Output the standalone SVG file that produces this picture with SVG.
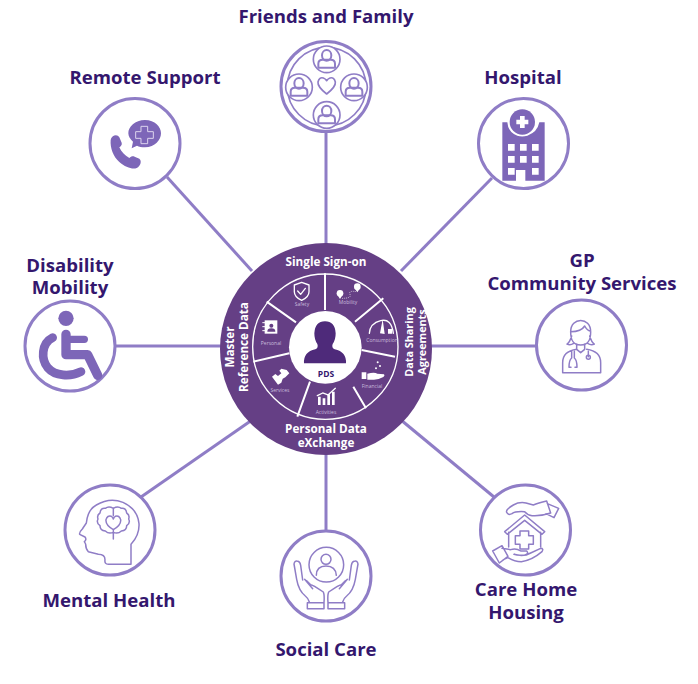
<svg xmlns="http://www.w3.org/2000/svg" width="698" height="684" viewBox="0 0 698 684">
<style>
.lab{font-family:"Open Sans","Liberation Sans",sans-serif;font-weight:700;font-size:18.6px;fill:#34176e;text-anchor:middle}
.hub{font-family:"Open Sans","Liberation Sans",sans-serif;font-weight:700;font-size:11.7px;fill:#fff;text-anchor:middle}
.hubs{font-size:10.8px}
.sm{font-family:"Open Sans","Liberation Sans",sans-serif;font-size:5px;fill:#c9bcdc;text-anchor:middle}
.ring{fill:#fff;stroke:#8f7dc6;stroke-width:3}
.con{stroke:#8f7dc6;stroke-width:3;fill:none}
.ln{fill:none;stroke:#8f7dc6;stroke-width:5;stroke-linecap:round;stroke-linejoin:round}
.ln2{fill:none;stroke:#8f7dc6;stroke-width:4.500;stroke-linecap:round;stroke-linejoin:round}
.sol{fill:#7d66b8}
.w{fill:none;stroke:#fff;stroke-width:4;stroke-linecap:round;stroke-linejoin:round}
.wf{fill:#fff}
</style>
<defs>
<g id="pers">
<circle r="40" fill="#fff" stroke="#8f7dc6" stroke-width="5"/>
<ellipse cx="0" cy="-12" rx="14" ry="16" fill="none" stroke="#8f7dc6" stroke-width="6"/>
<path d="M-25 25v-12q0-12 13-12h24q13 0 13 12v12z" fill="none" stroke="#8f7dc6" stroke-width="6" stroke-linejoin="round"/>
</g>
</defs>
<g id="connectors">
<path class="con" d="M326 132V250"/>
<path class="con" d="M167 177L252 271"/>
<path class="con" d="M492 178L401 271"/>
<path class="con" d="M537 346H430"/>
<path class="con" d="M115 346H222"/>
<path class="con" d="M141 497L252 420"/>
<path class="con" d="M326 531V450"/>
<path class="con" d="M494 497L401 420"/>
</g>
<g id="hub">
<circle cx="326" cy="349" r="106" fill="#653f85"/>
<g transform="translate(210,235) scale(.33333)">
<circle cx="346" cy="335" r="218" fill="none" stroke="#fff" stroke-width="4"/>
<path d="M345 115V225M520 190L435 260M455 345L555 365M430 455L468 520M300 440L262 545M238 355L130 380M258 262L170 200" stroke="#fff" stroke-width="6" fill="none"/>
<circle cx="346" cy="337" r="109" fill="#fff"/>
<path d="M282 385q-2-34 34-42 10-4 6-16-9-12-9-32 2-36 32-36t32 36q0 20-9 32-4 12 6 16 36 8 34 42z" fill="#4e2a7a"/>
<path class="w" d="M275 142l22 8v20q0 16-22 26-22-10-22-26v-20zM263 168l9 10 14-18" stroke-width="3"/>
<circle class="wf" cx="390" cy="175" r="10"/><circle class="wf" cx="442" cy="155" r="10"/>
<path class="wf" d="M381 178l9 14 9-14zM433 158l9 14 9-14z"/>
<path d="M396 190q30 0 24-12t20-8" fill="none" stroke="#fff" stroke-width="2" stroke-dasharray="3 3"/>
<path class="w" d="M478 295q2-30 34-38t38 38" stroke-width="4"/>
<path class="wf" d="M510 295l8-42 6 44zM534 282h12v14h-12z"/>
<path class="wf" d="M455 412h14v20h-14zM472 416q22-6 30 0l20 2q4 4-2 8-14 8-28 8h-20z"/>
<circle class="wf" cx="503" cy="382" r="3"/><circle class="wf" cx="510" cy="393" r="3"/><circle class="wf" cx="498" cy="400" r="3"/>
<path class="wf" d="M324 485h8v25h-8zM338 490h8v20h-8zM352 478h8v32h-8zM366 470h8v40h-8z"/>
<path class="w" d="M322 482l16-8 16 6 22-20" stroke-width="3"/>
<path class="wf" d="M186 425l10-8 8 6 10-8-6-8 6-6 16 4 8 10-12 12-8 4-4 12-10 6z"/>
<path class="wf" d="M164 256h38v40h-38z"/>
<circle cx="184" cy="272" r="6" fill="#653f85"/><path d="M172 290q0-10 12-10t12 10z" fill="#653f85"/>
<path d="M157 263h10M157 275h10M157 287h10" stroke="#fff" stroke-width="3"/>
</g>
<text class="hub" x="326" y="266">Single Sign-on</text>
<text class="hub" x="326" y="433">Personal Data</text>
<text class="hub" x="326" y="447">eXchange</text>
<text class="hub" transform="translate(234,347) rotate(-90)">Master</text>
<text class="hub" transform="translate(248,347) rotate(-90)">Reference Data</text>
<text class="hub hubs" transform="translate(413,342) rotate(-90)">Data Sharing</text>
<text class="hub hubs" transform="translate(426,342) rotate(-90)">Agreements</text>
<text class="sm" x="302" y="306">Safety</text>
<text class="sm" x="348" y="304">Mobility</text>
<text class="sm" x="382" y="342">Consumption</text>
<text class="sm" x="372" y="388">Financial</text>
<text class="sm" x="326" y="414">Activities</text>
<text class="sm" x="280" y="392">Services</text>
<text class="sm" x="271" y="345">Personal</text>
<text x="326" y="377" text-anchor="middle" font-family="Open Sans,Liberation Sans,sans-serif" font-weight="700" font-size="8.500" fill="#34176e">PDS</text>
</g>
<g id="friends">
<circle class="ring" cx="326" cy="86.500" r="45"/>
<g transform="translate(270,30) scale(.33333)">
<circle cx="170" cy="170" r="118" fill="none" stroke="#8f7dc6" stroke-width="5"/>
<use href="#pers" x="170" y="88"/><use href="#pers" x="87" y="172"/><use href="#pers" x="252" y="172"/><use href="#pers" x="170" y="255"/>
<path class="ln" d="M170 192q-28-22-26-36 4-16 16-12 6 2 10 8 4-6 10-8 12-4 16 12 2 14-26 36z"/>
</g>
<text class="lab" x="326" y="23">Friends and Family</text>
</g>
<g id="remote">
<circle class="ring" cx="135" cy="143.500" r="45"/>
<g transform="translate(80,90) scale(.33333)">
<path class="sol" d="M195 90c30 0 48 20 48 40s-18 42-48 42c-10 0-18-2-24-5l-16 8 4-20c-8-7-14-16-14-25 0-20 20-40 50-40z"/>
<path d="M183 112h20v16h17v20h-17v16h-20v-16h-16v-20h16z" fill="none" stroke="#ddd5ee" stroke-width="3" transform="translate(0,-3)"/>
<path class="sol" d="M92 150c2-14 20-20 26-8l7 16c2 6-2 10-7 14 6 14 16 24 30 32 5-5 10-6 16-4l14 6c8 6 4 22-8 28-12 5-34-2-52-18-18-16-28-42-26-66z"/>
</g>
<text class="lab" x="145" y="84">Remote Support</text>
</g>
<g id="hospital">
<circle class="ring" cx="523.500" cy="143.500" r="45"/>
<g transform="translate(470,90) scale(.33333)">
<path class="sol" d="M97 97h15q2 30 30 40 14 5 30 0 30-10 36-40h16v175h-58v-32h-28v32h-41z"/>
<circle class="sol" cx="157" cy="96" r="38"/>
<path class="wf" d="M150 78h14v11h11v14h-11v11h-14v-11h-11v-14h11zM114 162h20v20h-20zM150 162h20v20h-20zM186 162h20v20h-20zM114 198h20v20h-20zM150 198h20v20h-20zM186 198h20v20h-20zM114 234h20v20h-20zM186 234h20v20h-20z"/>
</g>
<text class="lab" x="523" y="84">Hospital</text>
</g>
<g id="gp">
<circle class="ring" cx="581.500" cy="345" r="45"/>
<g transform="translate(525,290) scale(.33333)">
<path class="ln2" d="M137 125c0-45 60-45 60 0 0 30-10 40-30 40s-30-10-30-40zM137 125c20 0 35-5 42-17 4 8 10 14 18 16M140 138c-4 14-8 20-14 24 8 4 14 2 20-2M194 138c4 14 8 20 14 24-8 4-14 2-20-2M155 162v16l12 10 12-10v-16M155 178q-42 6-42 40v30h114v-30q0-34-42-40M140 184v20q-8 6-8 28h6M148 184v20q8 6 8 28h-6M190 184v16"/>
<circle class="ln2" cx="190" cy="202" r="6"/>
</g>
<text class="lab" x="582" y="267">GP</text>
<text class="lab" x="582" y="290">Community Services</text>
</g>
<g id="disability">
<circle class="ring" cx="70" cy="346" r="45"/>
<g transform="translate(15,290) scale(.33333)">
<circle class="sol" cx="153" cy="85" r="23"/>
<path fill="none" stroke="#7d66b8" stroke-width="28" stroke-linecap="round" stroke-linejoin="round" d="M153 133v61h65l30 62"/>
<path d="M153 148h55" stroke="#7d66b8" stroke-width="22" stroke-linecap="round"/>
<path fill="none" stroke="#7d66b8" stroke-width="26" stroke-linecap="round" d="M113 143c-35 18-35 65-15 90 22 26 68 28 100 12"/>
</g>
<text class="lab" x="70" y="272">Disability</text>
<text class="lab" x="70" y="294">Mobility</text>
</g>
<g id="mental">
<circle class="ring" cx="110" cy="530" r="45"/>
<g transform="translate(55,475) scale(.33333)">
<path class="ln2" d="M100 230q-8-8-8-22-2-6-4-8 8-6 2-14l-16-8q-2-6 8-16l12-18q4-40 30-54 40-24 80-8 44 20 48 64 2 34-24 62v60h-68q-12 0-10-14 0-16-20-16z"/>
<path class="ln2" d="M175 100q-14-8-24 0-14-2-16 14-10 6-6 18-6 12 6 20 0 14 16 16 10 10 24 4 14 6 24-4 16-2 16-16 12-8 6-20 4-12-6-18-2-16-16-14-10-8-24 0zM175 100v22M175 164v28M175 164q-24-14-22-30 4-14 16-10 4 2 6 8 2-6 6-8 12-4 16 10 2 16-22 30z"/>
</g>
<text class="lab" x="109" y="607">Mental Health</text>
</g>
<g id="social">
<circle class="ring" cx="326" cy="576" r="45"/>
<g transform="translate(272,522) scale(.33333)">
<circle class="ln2" cx="163" cy="128" r="52"/>
<circle class="ln2" cx="162" cy="112" r="15"/>
<path class="ln2" d="M133 160q0-28 29-28t31 28"/>
<path class="ln2" d="M106 260v-18h50v18zM112 240q-4-12-12-18-20-16-26-50l-8-46q2-12 12-8 6 2 8 12l6 44M104 176l12 12q6 0 38 22 4 10 2 32M98 172l24 28"/>
<path class="ln2" d="M168 260v-18h50v18zM212 240q4-12 12-18 20-16 26-50l8-46q-2-12-12-8-6 2-8 12l-6 44M220 176l-12 12q-6 0-38 22-4 10-2 32M226 172l-24 28"/>
</g>
<text class="lab" x="326" y="656">Social Care</text>
</g>
<g id="care">
<circle class="ring" cx="525.500" cy="530" r="45"/>
<g transform="translate(470,475) scale(.33333)">
<path class="ln2" d="M110 112q-4-8 20-22 18-10 38-6l22 6q14-6 40-12l12 36q-30 10-56 8-14-2-22-12-28-2-38 6-12 6-16-4zM232 86l34 14-14 28-24-12"/>
<path class="ln2" d="M104 170l60-50 60 50-8 8-52-42-52 42zM116 172v44M212 172v44"/>
<path class="ln2" d="M150 168h26v14h14v26h-14v14h-26v-14h-14v-26h14z"/>
<path class="ln2" d="M68 228l28-16 18 32-26 20zM96 220l26 4q16-6 30 4h18q8 8-6 12-20 2-32-2 30 8 50-4l30-14q10 0 4 10-30 26-62 30-20 0-40-12l-14 6"/>
</g>
<text class="lab" x="526" y="596">Care Home</text>
<text class="lab" x="526" y="619">Housing</text>
</g>
</svg>
